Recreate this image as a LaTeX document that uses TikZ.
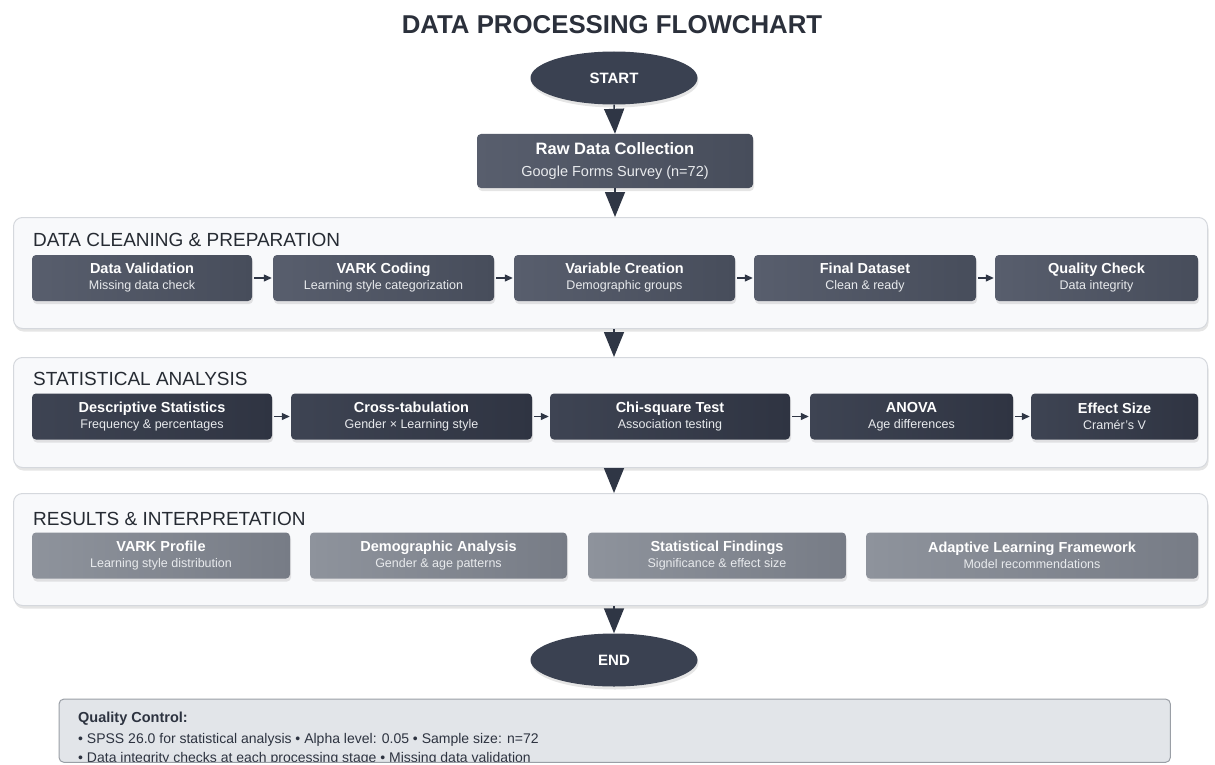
\documentclass[tikz,border=0pt]{standalone}
\usepackage{fontspec}
\setmainfont{Liberation Sans}
\usetikzlibrary{arrows.meta,shadows,shapes.geometric,calc}
\definecolor{titlecol}{HTML}{2B303B}
\definecolor{sectitle}{HTML}{262B33}
\definecolor{ellcol}{HTML}{3A4151}
\definecolor{tricol}{HTML}{2F3645}
\definecolor{oneL}{HTML}{585E6D}
\definecolor{oneR}{HTML}{474D5B}
\definecolor{twoL}{HTML}{3E4453}
\definecolor{twoR}{HTML}{2F3442}
\definecolor{thrL}{HTML}{8E939C}
\definecolor{thrR}{HTML}{777C86}
\definecolor{secfill}{HTML}{F8F9FB}
\definecolor{secborder}{HTML}{D5D8DD}
\definecolor{qcfill}{HTML}{E2E5E9}
\definecolor{qcborder}{HTML}{9A9FA6}
\definecolor{qctext}{HTML}{2D3340}
\definecolor{subcol}{HTML}{E8EAED}
\newcommand{\bxt}[2]{{\fontsize{14.5}{16}\selectfont\bfseries #1}\\{\fontsize{12.5}{16}\selectfont\color{subcol}#2}}
\begin{document}
\begin{tikzpicture}[x=1pt,y=-1pt,
  shd/.style={drop shadow={opacity=0.2,shadow xshift=1pt,shadow yshift=-3pt}},
  sect/.style={draw=secborder,fill=secfill,line width=1pt,rounded corners=9pt,anchor=north west,inner sep=0pt,shd},
  sbox/.style={rounded corners=4pt,minimum height=46pt,inner sep=0pt,text=white,align=center,shd,font=\fontsize{13}{16}\selectfont},
  boxone/.style={sbox,left color=oneL,right color=oneR},
  boxtwo/.style={sbox,left color=twoL,right color=twoR},
  boxthr/.style={sbox,left color=thrL,right color=thrR},
  term/.style={ellipse,minimum width=167pt,minimum height=53pt,inner sep=0pt,fill=ellcol,text=white,font=\fontsize{15}{18}\selectfont\bfseries,shd},
  bigarrow/.style={draw=tricol,line width=1.5pt,-{Triangle[length=25pt,width=20pt]}},
  smallarrow/.style={draw=tricol,line width=1.2pt,-{Triangle[length=8pt,width=7pt]},shorten <=2pt,shorten >=1pt},
  sectitle/.style={anchor=base west,inner sep=0pt,text=sectitle,font=\fontsize{19}{21}\selectfont}
]
\useasboundingbox (0,0) rectangle (1215,765);
\fill[white] (0,0) rectangle (1215,765);

% title
\node[font=\fontsize{25.8}{30}\selectfont\bfseries,text=titlecol] (title) at (612,25) {DATA PROCESSING FLOWCHART};

% start and raw data
\node[term] (start) at (614,78) {START};
\node[sbox,left color=oneL,right color=oneR,minimum width=276pt,minimum height=54pt,font=\fontsize{16.5}{22}\selectfont] (raw) at (615,161)
  {{\bfseries Raw Data Collection}\\{\fontsize{14.5}{22}\selectfont\color{subcol}Google Forms Survey (n=72)}};

% sections
\node[sect,minimum width=1194pt,minimum height=111pt] (s1) at (13,217) {};
\node[sect,minimum width=1194pt,minimum height=110pt] (s2) at (13,357) {};
\node[sect,minimum width=1194pt,minimum height=112pt] (s3) at (13,493) {};

\node[sectitle] (t1) at (33,246) {DATA CLEANING \& PREPARATION};
\node[sectitle] (t2) at (33,385) {STATISTICAL ANALYSIS};
\node[sectitle] (t3) at (33,525) {RESULTS \& INTERPRETATION};

% section 1
\node[boxone,minimum width=220pt] (a1) at (142,278) {\bxt{Data Validation}{Missing data check}};
\node[boxone,minimum width=221pt] (a2) at (383.5,278) {\bxt{VARK Coding}{Learning style categorization}};
\node[boxone,minimum width=221pt] (a3) at (624.5,278) {\bxt{Variable Creation}{Demographic groups}};
\node[boxone,minimum width=222pt] (a4) at (865,278) {\bxt{Final Dataset}{Clean \& ready}};
\node[boxone,minimum width=203pt] (a5) at (1096.5,278) {\bxt{Quality Check}{Data integrity}};
\draw[smallarrow] (a1) -- (a2);
\draw[smallarrow] (a2) -- (a3);
\draw[smallarrow] (a3) -- (a4);
\draw[smallarrow] (a4) -- (a5);

% section 2
\node[boxtwo,minimum width=240pt] (b1) at (152,416.5) {\bxt{Descriptive Statistics}{Frequency \& percentages}};
\node[boxtwo,minimum width=241pt] (b2) at (411.5,416.5) {\bxt{Cross-tabulation}{Gender × Learning style}};
\node[boxtwo,minimum width=240pt] (b3) at (670,416.5) {\bxt{Chi-square Test}{Association testing}};
\node[boxtwo,minimum width=203pt] (b4) at (911.5,416.5) {\bxt{ANOVA}{Age differences}};
\node[boxtwo,minimum width=167pt] (b5) at (1114.5,416.5) {\bxt{Effect Size}{Cramér's V}};
\draw[smallarrow] (b1) -- (b2);
\draw[smallarrow] (b2) -- (b3);
\draw[smallarrow] (b3) -- (b4);
\draw[smallarrow] (b4) -- (b5);

% section 3
\node[boxthr,minimum width=258pt] (c1) at (161,555.5) {\bxt{VARK Profile}{Learning style distribution}};
\node[boxthr,minimum width=257pt] (c2) at (438.5,555.5) {\bxt{Demographic Analysis}{Gender \& age patterns}};
\node[boxthr,minimum width=258pt] (c3) at (717,555.5) {\bxt{Statistical Findings}{Significance \& effect size}};
\node[boxthr,minimum width=332pt] (c4) at (1032,555.5) {\bxt{Adaptive Learning Framework}{Model recommendations}};

% end
\node[term] (end) at (614,660) {END};

% main flow arrows
\draw[bigarrow] (start.south) -- (raw.north);
\draw[bigarrow] (raw.south) -- (raw.south |- s1.north);
\draw[bigarrow] (s1.south -| start.south) -- (s2.north -| start.south);
\draw[bigarrow] (s2.south -| start.south) -- (s3.north -| start.south);
\draw[bigarrow] (s3.south -| end.north) -- (end.north);

% quality control
\node[fill=qcfill,rounded corners=5pt,anchor=north west,inner sep=0pt,minimum width=1111pt,minimum height=63pt] (qc) at (59,699) {};
\begin{scope}
\clip[rounded corners=5pt] (qc.north west) rectangle (qc.south east);
\node[anchor=west,inner sep=0pt,text=qctext,font=\fontsize{14.5}{17}\selectfont\bfseries] (qct) at (78,719) {Quality Control:};
\node[anchor=west,inner sep=0pt,text=qctext,font=\fontsize{14}{17}\selectfont] (qc1) at (78,740) {• SPSS 26.0 for statistical analysis • Alpha level: 0.05 • Sample size: n=72};
\node[anchor=west,inner sep=0pt,text=qctext,font=\fontsize{14}{17}\selectfont] (qc2) at (78,759) {• Data integrity checks at each processing stage • Missing data validation};
\end{scope}
\draw[qcborder,line width=1pt,rounded corners=5pt] (qc.north west) rectangle (qc.south east);
\end{tikzpicture}
\end{document}
